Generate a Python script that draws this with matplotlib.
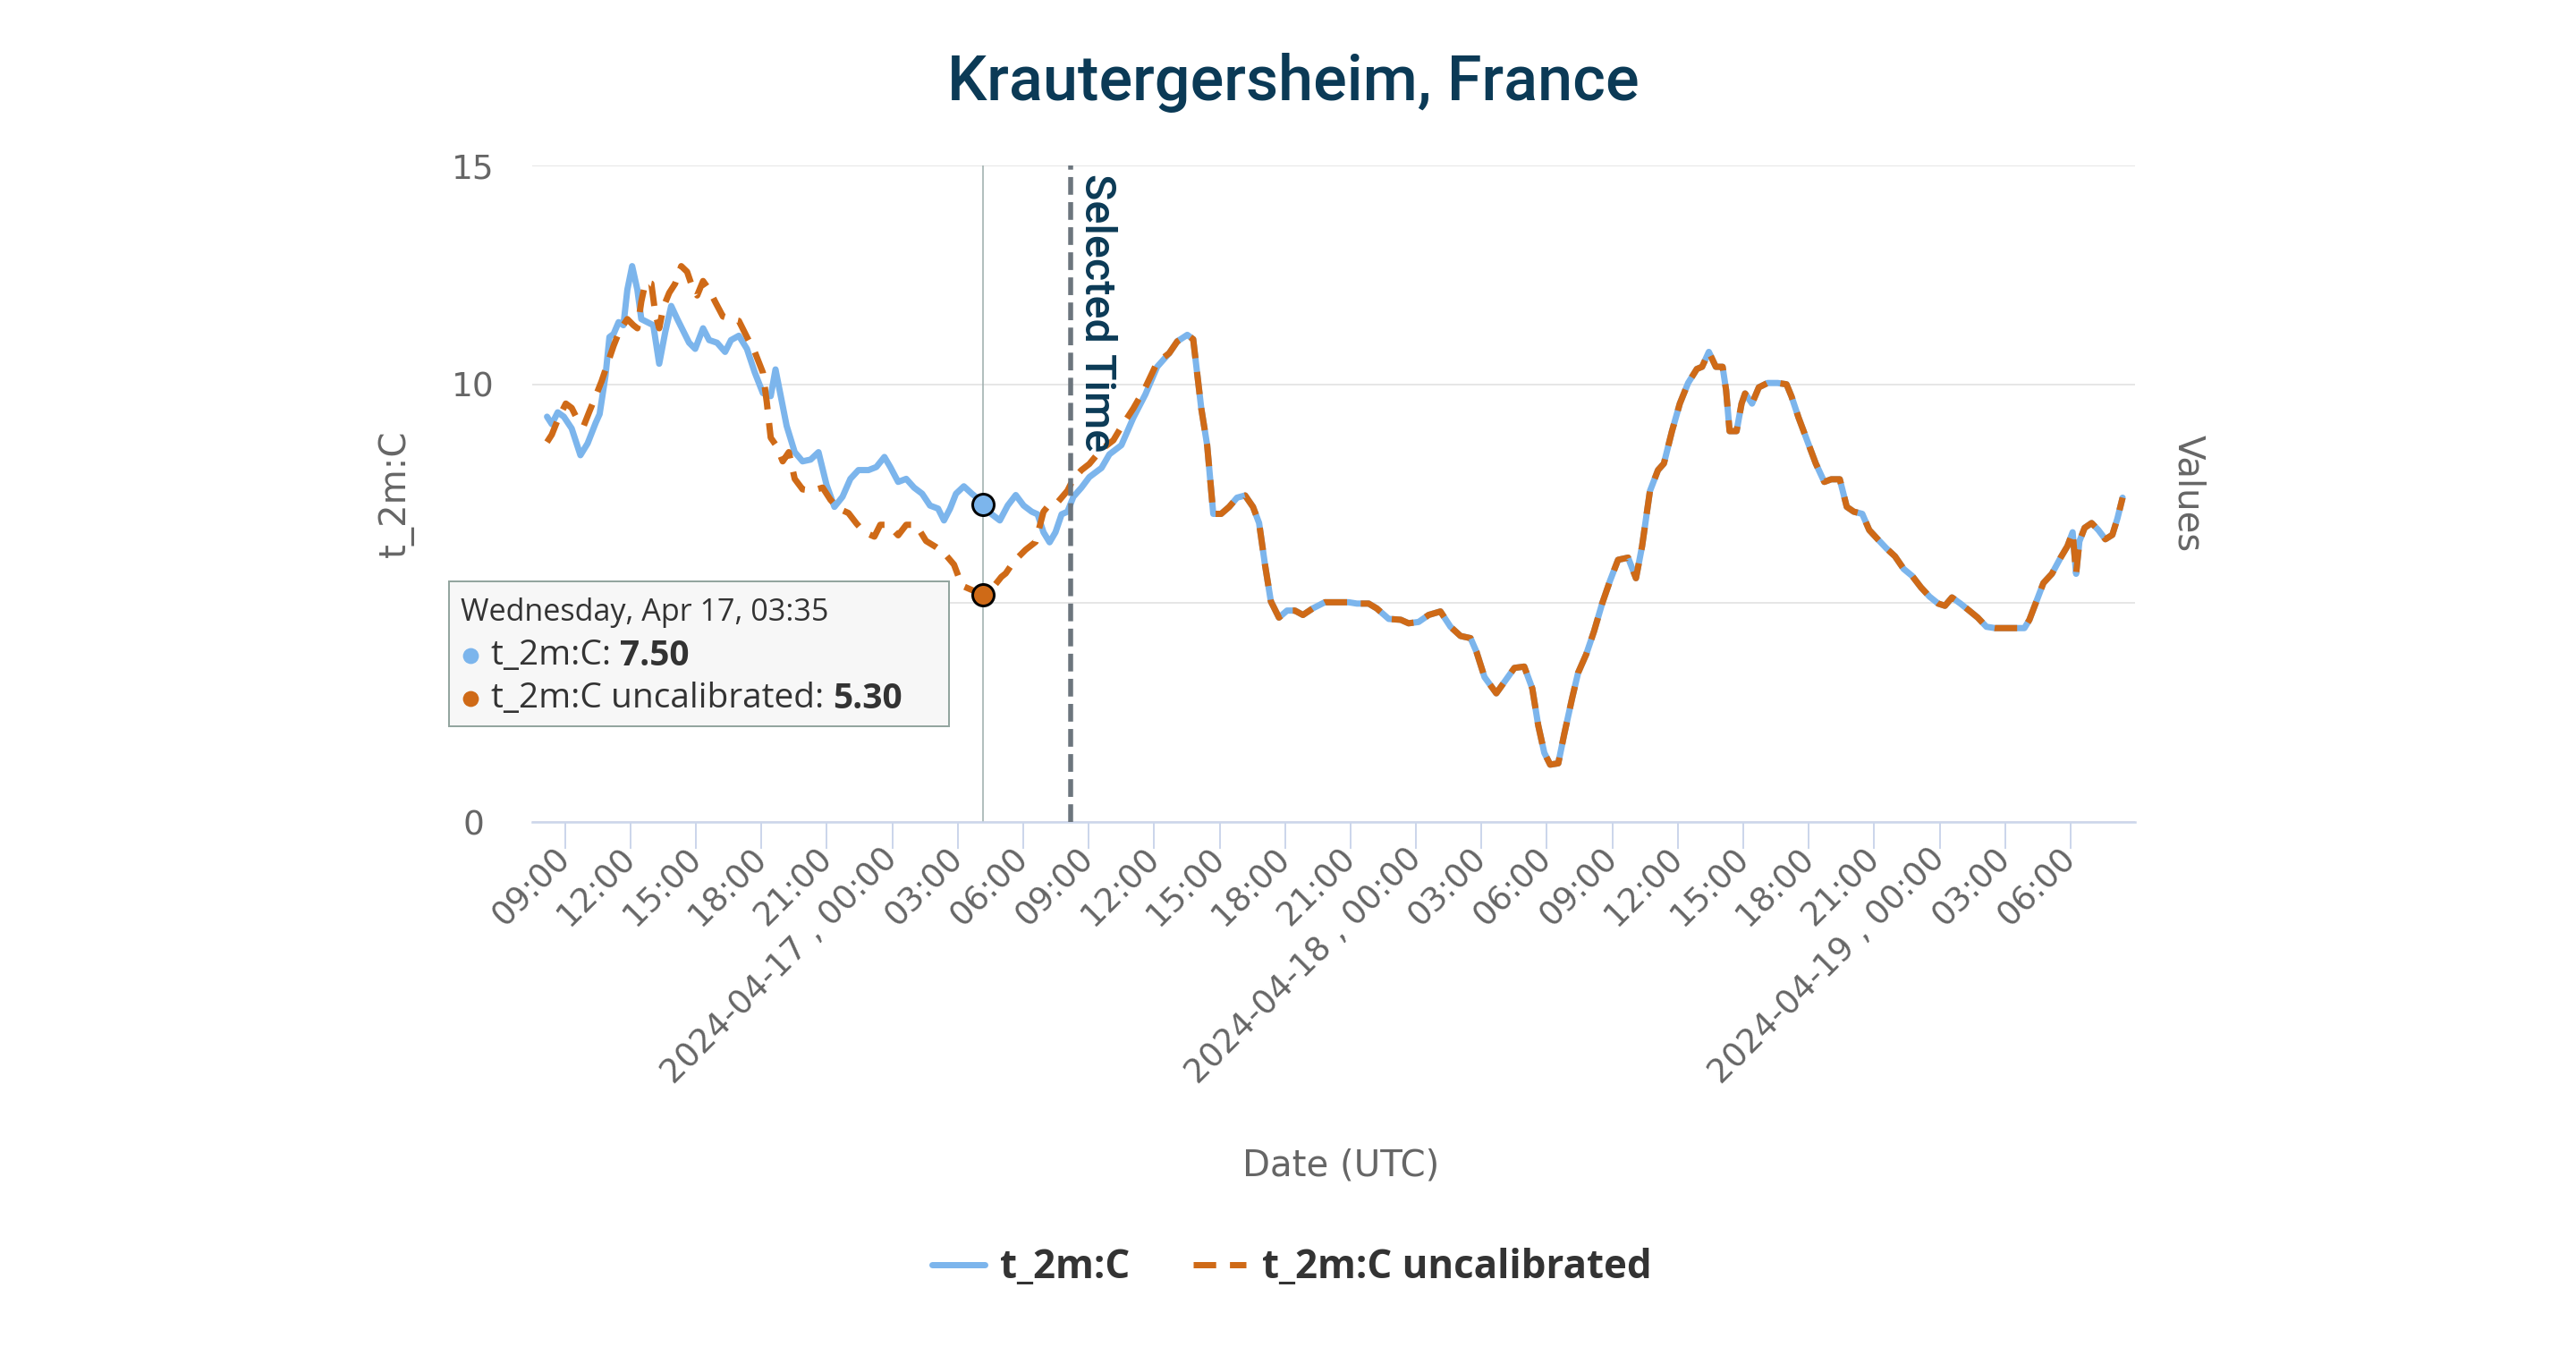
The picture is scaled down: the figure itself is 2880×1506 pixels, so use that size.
import matplotlib
matplotlib.use("Agg")
import matplotlib.pyplot as plt
import matplotlib.dates as mdates
import pandas as pd
from matplotlib.patches import Rectangle
from matplotlib.lines import Line2D
from matplotlib.ticker import FuncFormatter

plt.rcParams['font.family'] = ['DejaVu Sans']

# ---- data (hours after 2024-04-16 09:00 UTC) ----
start = pd.Timestamp("2024-04-16 09:00")

cal_hours = [-0.82, -0.60, -0.33, -0.05, 0.31, 0.71, 1.04, 1.41, 1.59, 1.86, 2.04, 2.23, 2.46, 2.68,
             2.86, 3.08, 3.32, 3.50, 3.78, 4.05, 4.32, 4.60, 4.87, 5.15, 5.42, 5.69, 5.97, 6.33,
             6.61, 6.97, 7.34, 7.61, 7.97, 8.34, 8.70, 9.07, 9.43, 9.65, 9.89, 10.16, 10.53, 10.89,
             11.26, 11.62, 11.99, 12.35, 12.72, 13.08, 13.45, 13.91, 14.27, 14.64, 14.91, 15.27,
             15.64, 16.00, 16.37, 16.73, 17.10, 17.37, 17.65, 17.92, 18.28, 18.65, 19.14, 19.56,
             19.93, 20.29, 20.66, 21.02, 21.39, 21.66, 21.93, 22.21, 22.48, 22.76, 23.03, 23.30,
             23.67, 24.03, 24.59, 24.95, 25.50, 26.05, 26.60, 27.14, 27.69, 28.06, 28.52, 28.79,
             29.16, 29.43, 29.71, 30.07, 30.44, 30.80, 31.17, 31.53, 31.81, 32.08, 32.35, 32.72,
             33.09, 33.45, 33.82, 34.27, 34.82, 35.37, 35.92, 36.29, 36.83, 37.20, 37.75, 38.30,
             38.66, 39.12, 39.58, 40.12, 40.58, 41.04, 41.50, 41.77, 42.14, 42.68, 43.05, 43.51,
             43.96, 44.33, 44.60, 44.88, 45.15, 45.52, 45.79, 46.16, 46.43, 46.80, 47.16, 47.53,
             47.89, 48.26, 48.72, 49.08, 49.36, 49.72, 50.09, 50.36, 50.73, 51.09, 51.47, 51.87,
             52.11, 52.42, 52.74, 53.05, 53.21, 53.37, 53.69, 53.92, 54.08, 54.40, 54.71, 55.11,
             55.58, 55.98, 56.21, 56.53, 56.92, 57.32, 57.71, 58.03, 58.42, 58.74, 59.06, 59.45,
             59.77, 60.16, 60.56, 60.95, 61.35, 61.74, 62.14, 62.53, 62.93, 63.24, 63.56, 63.95,
             64.35, 64.74, 65.14, 65.53, 66.01, 66.48, 66.88, 67.11, 67.43, 67.75, 68.14, 68.54,
             68.85, 69.09, 69.25, 69.40, 69.64, 69.96, 70.27, 70.59, 70.91, 71.14, 71.38]
cal_values = [9.26, 9.09, 9.36, 9.26, 8.99, 8.38, 8.65, 9.12, 9.32, 10.2, 11.08, 11.15, 11.42, 11.35,
              12.16, 12.7, 12.16, 11.49, 11.42, 11.35, 10.47, 11.2, 11.79, 11.49, 11.22, 10.95, 10.81, 11.28,
              11.01, 10.95, 10.74, 11.01, 11.11, 10.81, 10.27, 9.8, 9.73, 10.34, 9.73, 9.05, 8.45, 8.24,
              8.28, 8.45, 7.7, 7.2, 7.43, 7.84, 8.04, 8.04, 8.11, 8.34, 8.11, 7.77,
              7.84, 7.64, 7.5, 7.23, 7.16, 6.89, 7.16, 7.5, 7.67, 7.5, 7.3, 7.03,
              6.89, 7.23, 7.47, 7.23, 7.09, 7.03, 6.62, 6.39, 6.62, 7.03, 7.09, 7.43,
              7.64, 7.88, 8.09, 8.4, 8.61, 9.24, 9.77, 10.4, 10.71, 10.98, 11.13, 11.03,
              9.45, 8.61, 7.04, 7.04, 7.2, 7.41, 7.46, 7.2, 6.83, 5.88, 5.04, 4.67,
              4.83, 4.83, 4.73, 4.88, 5.02, 5.02, 5.02, 4.99, 4.99, 4.88, 4.64, 4.62,
              4.54, 4.57, 4.73, 4.81, 4.46, 4.25, 4.2, 3.89, 3.31, 2.94, 3.2, 3.52,
              3.55, 3.05, 2.21, 1.58, 1.31, 1.34, 2.0, 2.84, 3.41, 3.83, 4.36, 4.99,
              5.51, 5.99, 6.04, 5.57, 6.3, 7.56, 8.04, 8.19, 8.93, 9.56, 10.03, 10.35,
              10.4, 10.74, 10.4, 10.4, 9.87, 8.93, 8.93, 9.56, 9.79, 9.56, 9.93, 10.03,
              10.03, 10.0, 9.72, 9.24, 8.72, 8.19, 7.77, 7.83, 7.83, 7.2, 7.09, 7.04,
              6.67, 6.46, 6.25, 6.07, 5.78, 5.62, 5.36, 5.15, 4.99, 4.94, 5.13, 4.99,
              4.83, 4.67, 4.46, 4.43, 4.43, 4.43, 4.43, 4.62, 5.04, 5.46, 5.67, 6.04,
              6.3, 6.62, 5.67, 6.41, 6.72, 6.83, 6.67, 6.46, 6.56, 6.93, 7.41]

# uncalibrated series where it differs; afterwards it follows the calibrated one
uncal_hours_early = [-0.82, -0.60, -0.33, 0.04, 0.31, 0.58, 0.86, 1.13, 1.41, 1.68, 1.95, 2.23, 2.50,
                     2.86, 3.14, 3.32, 3.50, 3.69, 3.96, 4.14, 4.32, 4.51, 4.78, 5.05, 5.33, 5.60,
                     5.88, 6.06, 6.33, 6.61, 6.88, 7.24, 7.61, 7.97, 8.34, 8.70, 9.07, 9.25, 9.43,
                     9.71, 9.98, 10.26, 10.53, 10.89, 11.35, 11.81, 12.17, 12.54, 12.99, 13.36, 13.72,
                     14.18, 14.45, 14.82, 15.27, 15.64, 16.09, 16.55, 17.01, 17.37, 17.83, 18.19,
                     18.65, 19.14, 19.60, 20.00, 20.20, 20.57, 21.11, 21.57, 21.93, 22.21, 22.57,
                     23.03, 23.30, 23.67, 24.03, 24.58, 25.13, 25.50, 26.05, 26.60, 27.14]
uncal_values_early = [8.68, 8.85, 9.19, 9.56, 9.46, 9.19, 9.05, 9.39, 9.73, 10.07, 10.47, 10.88, 11.22,
                      11.49, 11.35, 11.28, 11.89, 12.33, 12.3, 11.62, 11.28, 11.76, 12.09, 12.3, 12.7, 12.57,
                      12.16, 12.03, 12.36, 12.16, 11.89, 11.55, 11.49, 11.45, 11.08, 10.74, 10.27, 9.59, 8.78,
                      8.58, 8.24, 8.45, 7.84, 7.6, 7.57, 7.64, 7.36, 7.16, 7.06, 6.82, 6.62,
                      6.52, 6.79, 6.79, 6.55, 6.79, 6.79, 6.42, 6.28, 6.15, 5.88, 5.4,
                      5.3, 5.2, 5.35, 5.6, 5.68, 5.95, 6.22, 6.4, 7.09, 7.26, 7.3,
                      7.57, 7.84, 8.04, 8.18, 8.51, 8.72, 9.03, 9.45, 9.93, 10.5]
split_hour = 27.5

selected_hour = 23.17      # Apr 17 ~08:10
hover_hour = 19.17         # position of the hover crosshair
hover_cal = 7.26
hover_uncal = 5.2
tooltip_title = "Wednesday, Apr 17, 03:35"
tooltip_cal = "7.50"
tooltip_uncal = "5.30"
y_ticks = [0, 5, 10, 15]
y_tick_labels = ['0', '', '10', '15']   # the 5 sits under the tooltip

BLUE = '#7cb5ec'
ORANGE = '#cf6a17'
NAVY = '#0b3a56'
GREY = '#666666'

W, H = 2880, 1506
DPI = 200


def pt(px):
    return px * 72.0 / DPI


def t(h):
    return (start + pd.Timedelta(hours=h)).to_pydatetime()


uncal_hours = uncal_hours_early + [h for h in cal_hours if h > split_hour]
uncal_values = uncal_values_early + [v for h, v in zip(cal_hours, cal_values) if h > split_hour]
cal_times = [t(h) for h in cal_hours]
uncal_times = [t(h) for h in uncal_hours]

fig = plt.figure(figsize=(W / DPI, H / DPI), dpi=DPI)
ax = fig.add_axes([595 / W, 1 - 919 / H, (2387 - 595) / W, (919 - 185) / H])

l1, = ax.plot(cal_times, cal_values, color=BLUE, lw=pt(7), solid_joinstyle='round',
              solid_capstyle='round', zorder=3, label='t_2m:C')
l2, = ax.plot(uncal_times, uncal_values, color=ORANGE, lw=pt(7), dashes=(3.6, 2.2),
              zorder=4, label='t_2m:C uncalibrated')

ax.set_xlim(t(-1.5), t(71.95))
ax.set_ylim(0, 15)
ax.set_yticks(y_ticks)
ax.set_yticklabels(y_tick_labels)

ax.xaxis.set_major_locator(mdates.HourLocator(byhour=range(0, 24, 3)))
ax.xaxis.set_minor_locator(mdates.HourLocator(byhour=[3, 9, 15, 21]))


def fmt(x, pos):
    d = mdates.num2date(x)
    if d.hour == 0:
        return d.strftime('%Y-%m-%d , 00:00')
    return d.strftime('%H:%M')


ax.xaxis.set_major_formatter(FuncFormatter(fmt))
ax.grid(which='minor', axis='x', color='#e6e6e6', lw=pt(2))
ax.grid(which='major', axis='y', color='#e6e6e6', lw=pt(2))
ax.set_axisbelow(True)
ax.tick_params(axis='x', which='minor', length=0)
ax.tick_params(axis='x', which='major', length=pt(30), width=pt(2), color='#ccd6eb',
               labelsize=13.3, labelcolor=GREY, pad=pt(5))
plt.setp(ax.get_xticklabels(), rotation=45, ha='right', va='center', rotation_mode='anchor')
ax.tick_params(axis='y', length=0, labelsize=13.5, labelcolor=GREY, pad=pt(66))
plt.setp(ax.get_yticklabels(), ha='center')

for s in ['top', 'right', 'left']:
    ax.spines[s].set_visible(False)
ax.spines['bottom'].set_color('#ccd6eb')
ax.spines['bottom'].set_linewidth(pt(2.5))

# selected time + hover crosshair
ax.axvline(t(selected_hour), color='#6c757d', lw=pt(5.5), dashes=(3.6, 1.5), zorder=5)
ax.axvline(t(hover_hour), color='#9fb0ae', lw=pt(1.6), zorder=2)
ax.plot([t(hover_hour)], [hover_cal], 'o', ms=pt(24), mfc=BLUE, mec='black', mew=pt(3), zorder=6)
ax.plot([t(hover_hour)], [hover_uncal], 'o', ms=pt(24), mfc=ORANGE, mec='black', mew=pt(3), zorder=6)

fig.text(1203 / W, 1 - 194 / H, 'Selected Time', rotation=270, ha='left', va='top',
         fontsize=17.5, color=NAVY, family='Roboto', weight='medium')

# titles / labels
fig.text(1446 / W, 1 - 92 / H, 'Krautergersheim, France', ha='center', va='center',
         fontsize=25.3, color=NAVY, family='Roboto', weight='medium')
fig.text(443 / W, 1 - 552 / H, 't_2m:C', rotation=90, ha='center', va='center',
         fontsize=14.5, color=GREY)
fig.text(2446 / W, 1 - 552 / H, 'Values', rotation=270, ha='center', va='center',
         fontsize=14.5, color=GREY)
fig.text(1499 / W, 1 - 1303 / H, 'Date (UTC)', ha='center', va='center',
         fontsize=14.5, color=GREY)

# tooltip
fig.patches.append(Rectangle((502 / W, 1 - 812 / H), (1061 - 502) / W, (812 - 650) / H,
                             transform=fig.transFigure, fc='#f7f7f7', ec='#93a59f',
                             lw=pt(2), zorder=10))
fig.text(515 / W, 1 - 685 / H, tooltip_title, fontsize=12.3, color='#333333', va='center',
         family='Open Sans', zorder=11)
renderer = fig.canvas.get_renderer()
for ypx, col, lab, val in [(733, BLUE, 't_2m:C: ', tooltip_cal),
                           (781, ORANGE, 't_2m:C uncalibrated: ', tooltip_uncal)]:
    fig.add_artist(Line2D([526 / W], [1 - ypx / H], marker='o', ms=pt(15), color=col,
                          mec=col, transform=fig.transFigure, zorder=11))
    tx = fig.text(549 / W, 1 - ypx / H, lab, fontsize=14, color='#333333', va='center',
                  family='Open Sans', zorder=11)
    x1 = tx.get_window_extent(renderer).x1
    fig.text(x1 / W, 1 - ypx / H, val, fontsize=14, color='#333333', va='center',
             family='Open Sans', weight='bold', zorder=11)

fig.legend(handles=[l1, l2], loc='center', bbox_to_anchor=(1444 / W, 1 - 1418 / H), ncol=2,
           frameon=False, prop={'family': 'Open Sans', 'weight': 'bold', 'size': 15.8},
           handlelength=1.35, handletextpad=0.4, columnspacing=1.6, labelcolor='#333333')

fig.savefig('out.png', dpi=DPI)
